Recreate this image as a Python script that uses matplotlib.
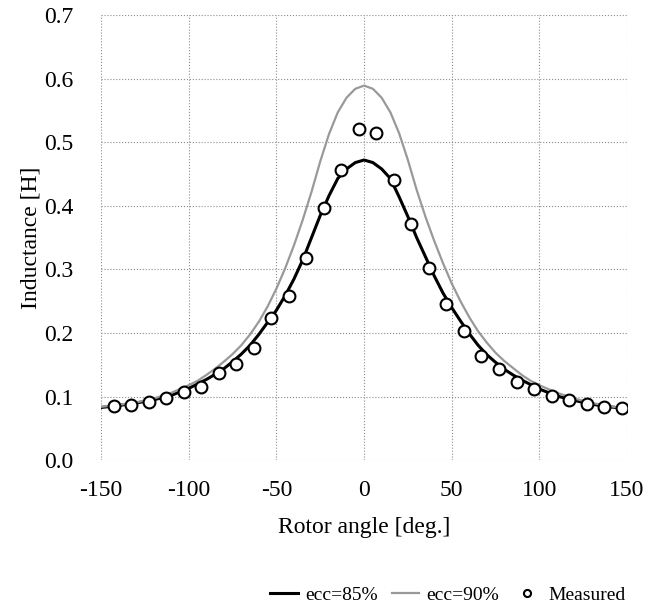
import matplotlib
matplotlib.use('Agg')
import matplotlib.pyplot as plt

plt.rcParams['font.family'] = ['Liberation Serif', 'DejaVu Serif']
plt.rcParams['axes.unicode_minus'] = False

# simulated curves
ang = [-150, -140, -130, -120, -110, -100, -95, -90, -85, -80, -75, -70, -65, -60, -55,
       -50, -45, -40, -35, -30, -25, -20, -15, -10, -5, 0,
       5, 10, 15, 20, 25, 30, 35, 40, 45, 50, 55, 60, 65, 70, 75, 80, 85, 90, 95,
       100, 110, 120, 130, 140, 150]
ecc85 = [0.083, 0.086, 0.090, 0.095, 0.102, 0.113, 0.120, 0.127, 0.135, 0.144, 0.155,
         0.167, 0.181, 0.198, 0.217, 0.236, 0.259, 0.285, 0.315, 0.350, 0.385, 0.416,
         0.443, 0.458, 0.468, 0.472,
         0.468, 0.458, 0.443, 0.414, 0.383, 0.350, 0.320, 0.290, 0.263, 0.240, 0.219,
         0.199, 0.181, 0.166, 0.154, 0.143, 0.134, 0.126, 0.119,
         0.112, 0.101, 0.094, 0.088, 0.084, 0.081]
ecc90 = [0.084, 0.087, 0.091, 0.097, 0.106, 0.118, 0.125, 0.134, 0.144, 0.155, 0.167,
         0.181, 0.198, 0.218, 0.242, 0.270, 0.302, 0.338, 0.378, 0.422, 0.470, 0.513,
         0.547, 0.570, 0.584, 0.589,
         0.584, 0.570, 0.547, 0.514, 0.472, 0.425, 0.383, 0.345, 0.310, 0.278, 0.250,
         0.225, 0.203, 0.185, 0.169, 0.156, 0.145, 0.134, 0.125,
         0.118, 0.106, 0.097, 0.090, 0.085, 0.081]

# measured points
meas_ang = [-143, -133, -123, -113, -103, -93, -83, -73, -63, -53, -43, -33, -23, -13, -3,
            7, 17, 27, 37, 47, 57, 67, 77, 87, 97, 107, 117, 127, 137, 147]
meas_val = [0.085, 0.087, 0.091, 0.098, 0.107, 0.115, 0.137, 0.152, 0.177, 0.224, 0.258,
            0.318, 0.397, 0.456, 0.520,
            0.514, 0.441, 0.371, 0.302, 0.246, 0.203, 0.164, 0.143, 0.123, 0.112, 0.101,
            0.094, 0.088, 0.083, 0.082]

fig = plt.figure(figsize=(6.49, 6.12), dpi=100)
ax = fig.add_axes([0.156, 0.248, 0.81, 0.7275])

ax.plot(ang, ecc85, color='black', lw=2.2, label='ecc=85%')
ax.plot(ang, ecc90, color='0.6', lw=1.6, label='ecc=90%')
ax.plot(meas_ang, meas_val, 'o', ms=8.5, mfc='white', mec='black', mew=1.5,
        label='Measured')

ax.set_xlim(-150, 150)
ax.set_ylim(0, 0.7)
ax.set_xticks([-150, -100, -50, 0, 50, 100, 150])
ax.set_yticks([0.0, 0.1, 0.2, 0.3, 0.4, 0.5, 0.6, 0.7])
ax.set_yticklabels(['0.0', '0.1', '0.2', '0.3', '0.4', '0.5', '0.6', '0.7'])
ax.tick_params(length=0, labelsize=17)
ax.tick_params(axis='y', pad=20)
ax.tick_params(axis='x', pad=14)
ax.grid(True, color='0.55', ls=':', lw=0.8)
for s in ax.spines.values():
    s.set_visible(False)

ax.set_xlabel('Rotor angle [deg.]', fontsize=17, labelpad=12)
ax.set_ylabel('Inductance [H]', fontsize=17, labelpad=2)

fig.legend(loc='center', bbox_to_anchor=(0.69, 0.027), ncol=3, frameon=False,
           fontsize=14, handlelength=1.4, handletextpad=0.4, columnspacing=0.7,
           markerscale=0.6)

fig.savefig('out.png', dpi=100)
